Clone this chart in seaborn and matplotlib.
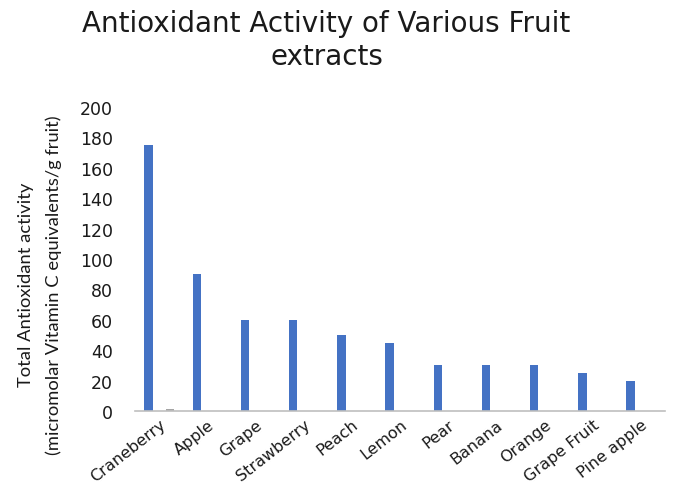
import matplotlib
matplotlib.use("Agg")
import matplotlib.pyplot as plt
import seaborn as sns
import pandas as pd

# Fruit extracts and their total antioxidant activity
fruits = ["Craneberry", "Apple", "Grape", "Strawberry", "Peach", "Lemon",
          "Pear", "Banana", "Orange", "Grape Fruit", "Pine apple"]
activity = [175, 90, 60, 60, 50, 45, 30, 30, 30, 25, 20]
# Second series (only a trace value for cranberry)
secondary = [1.5, 0, 0, 0, 0, 0, 0, 0, 0, 0, 0]
yticks = [0, 20, 40, 60, 80, 100, 120, 140, 160, 180, 200]

df = pd.DataFrame({
    "fruit": fruits * 2,
    "series": ["Series 1"] * len(fruits) + ["Series 2"] * len(fruits),
    "value": activity + secondary,
})

sns.set_theme(style="white")
plt.rcParams["font.family"] = ["DejaVu Sans"]

fig = plt.figure(figsize=(6.76, 4.89), dpi=100)
ax = fig.add_axes([0.2, 0.1575, 0.784, 0.6215])

sns.barplot(data=df, x="fruit", y="value", hue="series",
            palette=["#4472C4", "#A5A5A5"], width=0.88, gap=0.6,
            saturation=1, linewidth=0, legend=False, ax=ax)

ax.set_xlim(-0.5, len(fruits) - 0.5)
ax.set_ylim(0, 200)
ax.set_yticks(yticks)
ax.set_yticklabels([str(t) for t in yticks], fontsize=12.5, color="#1a1a1a")
ax.tick_params(axis="y", length=0, pad=16)
ax.tick_params(axis="x", length=0, pad=4)
ax.set_xticks(range(len(fruits)))
ax.set_xticklabels(fruits, rotation=38, ha="right", rotation_mode="anchor",
                   fontsize=11.5, color="#1a1a1a")
ax.set_xlabel("")
ax.set_ylabel("Total Antioxidant activity\n(micromolar Vitamin C equivalents/g fruit)",
              fontsize=13.2, color="#1a1a1a", linespacing=1.85,
              family=["Lato", "DejaVu Sans"])
ax.yaxis.set_label_coords(-0.138, 0.418)

for side in ["top", "right", "left"]:
    ax.spines[side].set_visible(False)
ax.spines["bottom"].set_color("#BFBFBF")
ax.spines["bottom"].set_linewidth(1.2)

fig.text(0.482, 0.951, "Antioxidant Activity of Various Fruit",
         ha="center", va="center", fontsize=20, color="#1a1a1a")
fig.text(0.484, 0.884, "extracts",
         ha="center", va="center", fontsize=20, color="#1a1a1a")

fig.savefig("out.png", dpi=100, facecolor="white")
